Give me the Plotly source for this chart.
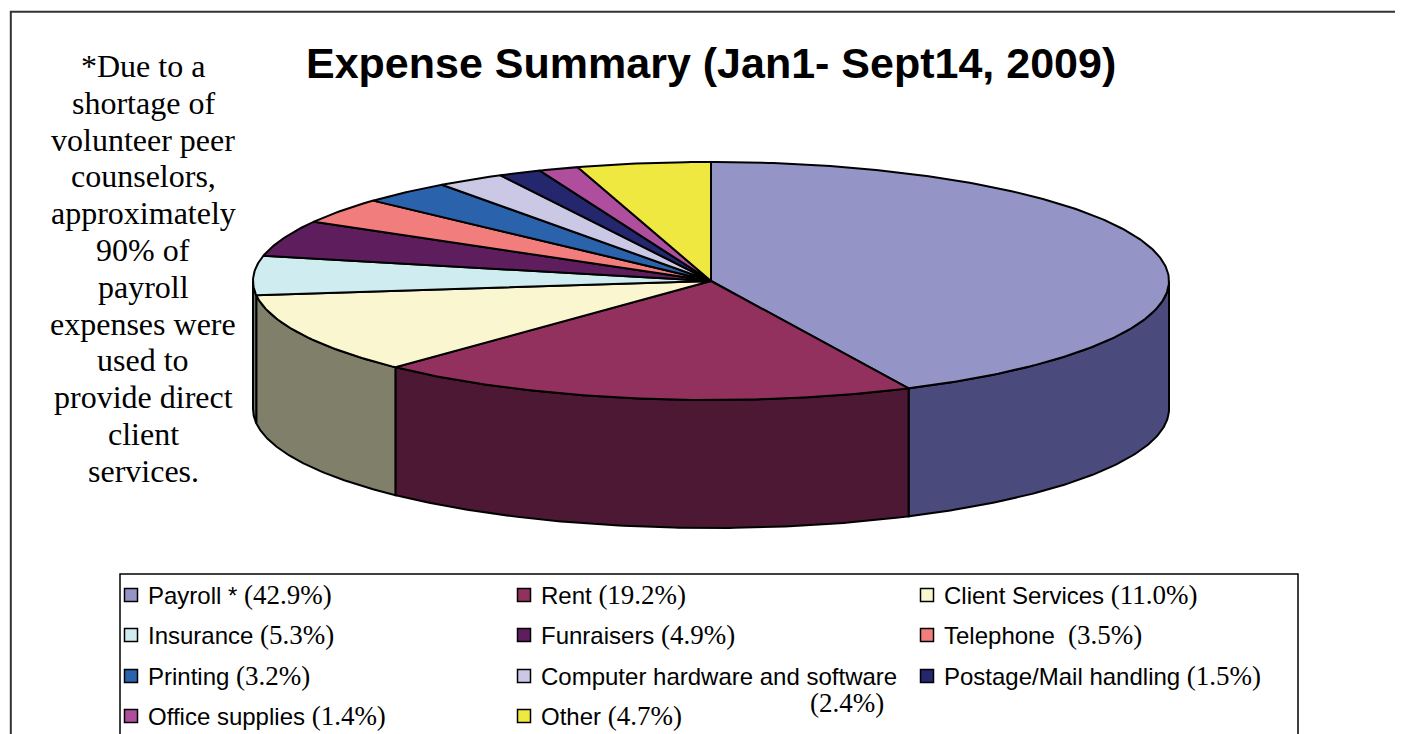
import numpy as np
import plotly.graph_objects as go

# ---------------- data ----------------
categories = ["Payroll *", "Rent", "Client Services", "Insurance", "Funraisers",
              "Telephone", "Printing", "Computer hardware and software",
              "Postage/Mail handling", "Office supplies", "Other"]
percents = [42.9, 19.2, 11.0, 5.3, 4.9, 3.5, 3.2, 2.4, 1.5, 1.4, 4.7]

title_text = "Expense Summary (Jan1- Sept14, 2009)"
note_lines = ["*Due to a", "shortage of", "volunteer peer", "counselors,",
              "approximately", "90% of", "payroll", "expenses were",
              "used to", "provide direct", "client", "services."]

# ---------------- style ----------------
top_colors = ["#9494C6", "#92305E", "#FAF7D0", "#CFECF0", "#5E1E5E", "#F27D7D",
              "#2A62AC", "#CAC8E4", "#24266E", "#B04E9E", "#EEE840"]
side_colors = ["#4A4A7C", "#4D1833", "#80806A", "#687678", "#2F0F2F", "#793E3E",
               "#153156", "#656472", "#121337", "#58274F", "#777420"]

W, H = 1403, 734
CX, CY, RX, RY, DEPTH = 703, 273, 458, 119, 128
SANS = "Arial, Liberation Sans, sans-serif"
SERIF = "Times New Roman, Liberation Serif, serif"

fig = go.Figure()

total = sum(percents)
cum = np.cumsum([0] + percents) / total
starts = 90 - 360 * cum[:-1]
ends = 90 - 360 * cum[1:]


def arc(a0, a1, n=120):
    t = np.radians(np.linspace(a0, a1, n))
    return CX + RX * np.cos(t), CY - RY * np.sin(t)


# sides (front half only)
for i in range(len(percents)):
    hi = min(starts[i], 0.0)
    lo = max(ends[i], -180.0)
    if lo < hi:
        xt, yt = arc(hi, lo)
        xb, yb = arc(lo, hi)
        xs = np.concatenate([xt, xb, xt[:1]])
        ys = np.concatenate([yt, yb + DEPTH, yt[:1]])
        fig.add_trace(go.Scatter(x=xs, y=ys, mode="lines", fill="toself",
                                 fillcolor=side_colors[i],
                                 line=dict(color="black", width=2),
                                 hoverinfo="skip", showlegend=False))

# tops
for i in range(len(percents)):
    xa, ya = arc(starts[i], ends[i], max(8, int(percents[i] * 6)))
    xs = np.concatenate([[CX], xa, [CX]])
    ys = np.concatenate([[CY], ya, [CY]])
    fig.add_trace(go.Scatter(x=xs, y=ys, mode="lines", fill="toself",
                             fillcolor=top_colors[i],
                             line=dict(color="black", width=2),
                             name=categories[i], hoverinfo="skip",
                             showlegend=False))

annotations = []
shapes = []

# title
annotations.append(dict(x=703, y=55, xref="x", yref="y", text="<b>%s</b>" % title_text,
                        showarrow=False, font=dict(family=SANS, size=43, color="black"),
                        xanchor="center", yanchor="middle"))

# left note
for k, line in enumerate(note_lines):
    annotations.append(dict(x=135, y=58 + k * 36.8, xref="x", yref="y", text=line,
                            showarrow=False, font=dict(family=SERIF, size=32, color="black"),
                            xanchor="center", yanchor="middle"))

# legend
LEG_X0, LEG_X1, LEG_Y0, LEG_Y1 = 112, 1290, 566, 730
col_x = [138, 531, 934]
row_y = [587, 627, 668, 708]
shapes.append(dict(type="rect", xref="x", yref="y", x0=LEG_X0, x1=LEG_X1, y0=LEG_Y0, y1=LEG_Y1,
                   line=dict(color="black", width=1.5), fillcolor="rgba(0,0,0,0)"))

mx, my = [], []
for i, (name, p) in enumerate(zip(categories, percents)):
    r, c = divmod(i, 3)
    mx.append(col_x[c] - 15)
    my.append(row_y[r])
    pct = "(%.1f%%)" % p
    pct_html = '<span style="font-family:Liberation Serif;font-size:27px">%s</span>' % pct
    sep = "&nbsp; " if name == "Telephone" else " "
    if len(name) > 25:
        annotations.append(dict(x=col_x[c], y=row_y[r], xref="x", yref="y", text=name,
                                showarrow=False, font=dict(family=SANS, size=24, color="black"),
                                xanchor="left", yanchor="middle"))
        annotations.append(dict(x=col_x[c] + 347, y=row_y[r] + 27, xref="x", yref="y",
                                text=pct_html, showarrow=False,
                                font=dict(family=SERIF, size=27, color="black"),
                                xanchor="right", yanchor="middle"))
    else:
        annotations.append(dict(x=col_x[c], y=row_y[r], xref="x", yref="y",
                                text=name + sep + pct_html, showarrow=False,
                                font=dict(family=SANS, size=24, color="black"),
                                xanchor="left", yanchor="middle"))

fig.add_trace(go.Scatter(x=mx, y=my, mode="markers",
                         marker=dict(symbol="square", size=13, color=top_colors,
                                     line=dict(color="black", width=1.5)),
                         hoverinfo="skip", showlegend=False))

# outer frame
shapes.append(dict(type="rect", xref="paper", yref="paper", x0=0.002, x1=0.998, y0=0.003, y1=0.995,
                   line=dict(color="#333333", width=2), fillcolor="rgba(0,0,0,0)"))

fig.update_layout(
    width=W, height=H, margin=dict(l=0, r=0, t=0, b=0),
    paper_bgcolor="white", plot_bgcolor="white",
    xaxis=dict(range=[0, W], visible=False, fixedrange=True),
    yaxis=dict(range=[H, 0], visible=False, fixedrange=True),
    annotations=annotations, shapes=shapes, showlegend=False,
)

fig.write_html("out.html")
